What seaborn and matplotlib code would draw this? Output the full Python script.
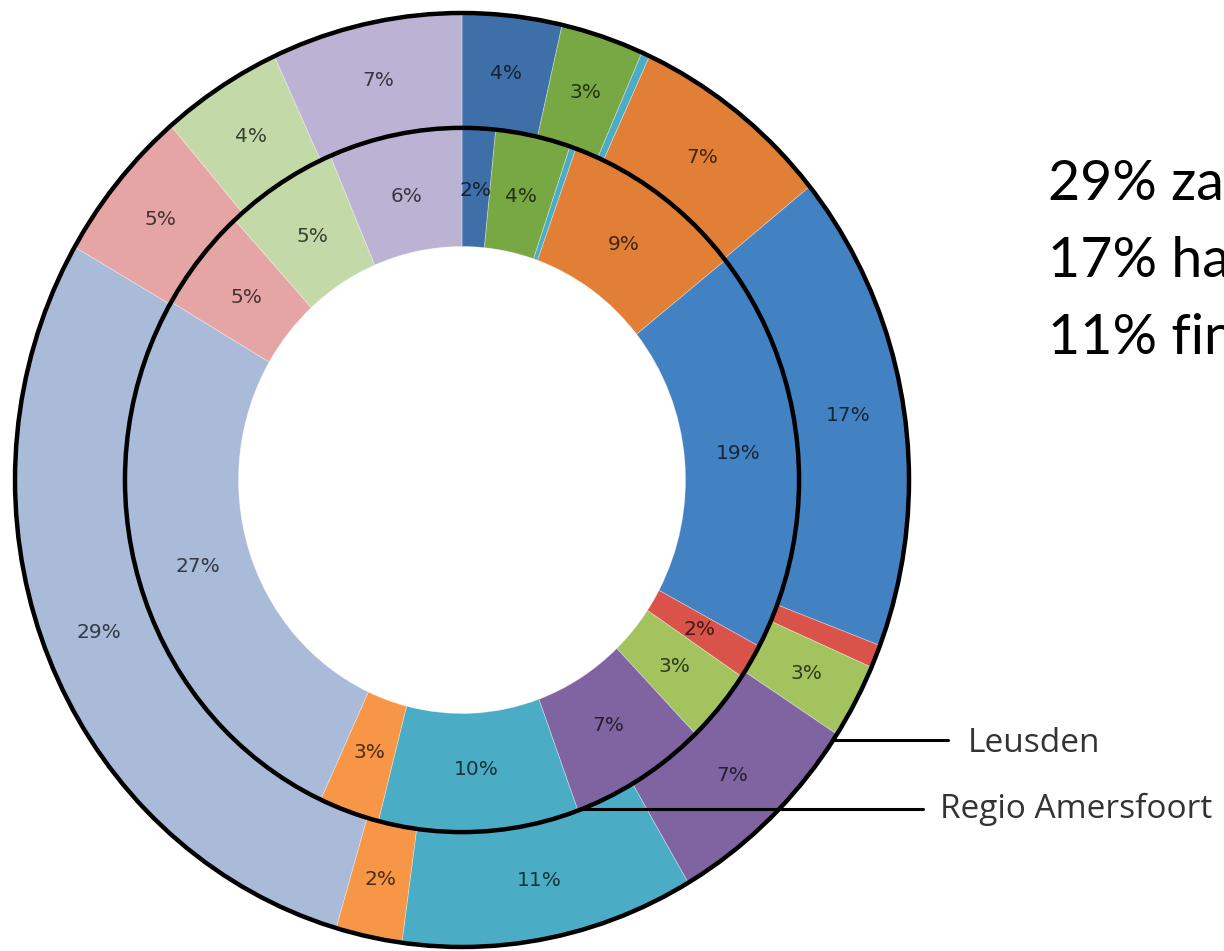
import numpy as np
import matplotlib.pyplot as plt
import matplotlib.patches as mpatches
from matplotlib.colors import to_rgb
import seaborn as sns

sns.set_style("white")

# segment colours, clockwise from 12 o'clock (same order in both rings)
colors = ["#3F6FA8", "#77A843", "#4BACC6", "#E07F35", "#4282C2", "#D9534A",
          "#A2C35E", "#8064A2", "#4BACC6", "#F79646", "#A9BBD9", "#E6A5A5",
          "#C4D9A8", "#BCB3D4"]

# outer ring = Leusden, inner ring = Regio Amersfoort (percentages)
leusden = [3.6, 3.0, 0.3, 7.3, 16.6, 0.8, 2.6, 7.4, 10.6, 2.4, 28.8, 5.4, 4.4, 6.9]
regio = [1.6, 3.6, 0.3, 8.8, 18.6, 1.6, 3.4, 6.6, 9.6, 2.9, 26.6, 4.8, 5.4, 6.4]

ring_names = ["Leusden", "Regio Amersfoort"]
side_lines = ["29% zakelijke dienstverlening", "17% handel", "11% financiële instellingen"]

outer_r = 1.0
inner_r = 0.754
hole_r = 0.5


def pct_labels(vals):
    return [f"{v:.0f}%" if v >= 1 else "" for v in vals]


fig = plt.figure(figsize=(12.24, 9.51), dpi=100)
ax = fig.add_axes([0, 0, 1, 1])

w_out, t_out = ax.pie(leusden, radius=outer_r, colors=colors, startangle=90,
                      counterclock=False, labels=pct_labels(leusden),
                      labeldistance=0.875,
                      wedgeprops=dict(width=outer_r - inner_r, linewidth=0.6,
                                      edgecolor=(1, 1, 1, 0.35)))
w_in, t_in = ax.pie(regio, radius=inner_r, colors=colors, startangle=90,
                    counterclock=False, labels=pct_labels(regio),
                    labeldistance=0.62 / inner_r,
                    wedgeprops=dict(width=inner_r - hole_r, linewidth=0.6,
                                    edgecolor=(1, 1, 1, 0.35)))

for texts in (t_out, t_in):
    for t, c in zip(texts, colors):
        t.set_ha("center")
        t.set_va("center")
        t.set_fontsize(14.5)
        t.set_color(tuple(v * 0.3 for v in to_rgb(c)))

# black ring outlines
for r in (outer_r, inner_r):
    ax.add_patch(mpatches.Circle((0, 0), r, fill=False, edgecolor="black", lw=3.2, zorder=5))

# leader lines for the two rings
ang_leusden = np.deg2rad(-33.9)
ang_regio = np.deg2rad(-69.1)
ax.plot([outer_r * np.cos(ang_leusden), 1.087], [outer_r * np.sin(ang_leusden)] * 2,
        color="black", lw=2.2, zorder=6)
ax.plot([inner_r * np.cos(ang_regio), 1.031], [inner_r * np.sin(ang_regio)] * 2,
        color="black", lw=2.2, zorder=6)
ax.text(1.132, -0.582, ring_names[0], fontsize=24, family="Open Sans", color="#333333",
        va="baseline", ha="left")
ax.text(1.069, -0.724, ring_names[1], fontsize=24, family="Open Sans", color="#333333",
        va="baseline", ha="left")

ax.set_aspect("auto")
ax.set_xlim(-1.0336, 1.7047)
ax.set_ylim(-1.0086, 1.0278)
ax.axis("off")

# text on the right (runs off the edge of the picture, as in the original)
for i, s in enumerate(side_lines):
    fig.text(1048 / 1224, 1 - (200 + 77 * i) / 951, s, fontsize=40, family="Lato",
             color="black", va="baseline", ha="left")

fig.savefig("out.png", dpi=100)
